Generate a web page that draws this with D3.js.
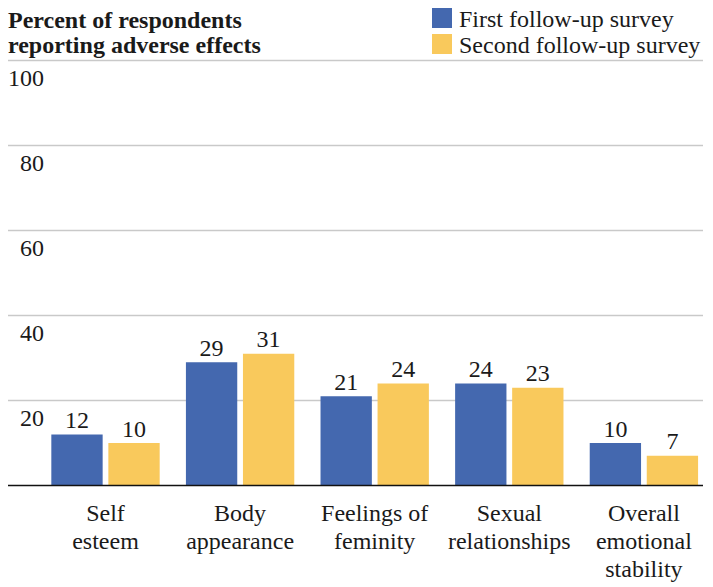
<!DOCTYPE html>
<html>
<head>
<meta charset="utf-8">
<script src="https://cdn.jsdelivr.net/npm/d3@7"></script>
</head>
<body style="margin:0">
<script>
const categories = [
  ["Self", "esteem"],
  ["Body", "appearance"],
  ["Feelings of", "feminity"],
  ["Sexual", "relationships"],
  ["Overall", "emotional", "stability"]
];
const seriesNames = ["First follow-up survey", "Second follow-up survey"];
const firstSurvey = [12, 29, 21, 24, 10];
const secondSurvey = [10, 31, 24, 23, 7];
const yTicks = [20, 40, 60, 80, 100];
const titleLines = ["Percent of respondents", "reporting adverse effects"];
const colors = ["#4468af", "#f9c95c"];

const FONT = "Liberation Serif";
const TXT = "#1a1a1a";

const W = 713, H = 587;
const svg = d3.select("body").append("svg").attr("width", W).attr("height", H)
  .style("display", "block");

function styleText(sel) {
  return sel.attr("font-family", FONT)
    .style("font-family", "'Liberation Serif', serif", "important")
    .attr("fill", TXT);
}

const plotLeft = 8, plotRight = 703;
const y = d3.scaleLinear().domain([0, 100]).range([485.5, 60.5]);
const x0 = d3.scaleBand().domain(d3.range(categories.length))
  .range([38.2, 711.2]).paddingInner(0.195).paddingOuter(0.0975);
const x1 = d3.scaleBand().domain([0, 1]).range([0, x0.bandwidth()]).paddingInner(0.1);

// gridlines
svg.append("g").selectAll("line").data(yTicks).join("line")
  .attr("x1", plotLeft).attr("x2", plotRight)
  .attr("y1", d => y(d)).attr("y2", d => y(d))
  .attr("stroke", "#c9c9c9").attr("stroke-width", 1.5);

// tick labels (below each gridline, right aligned)
styleText(svg.append("g").selectAll("text").data(yTicks).join("text")
  .attr("x", 44).attr("y", d => y(d) + 25)
  .attr("text-anchor", "end").attr("font-size", 24))
  .text(d => d);

// bars
const data = categories.map((c, i) => [firstSurvey[i], secondSurvey[i]]);
const groups = svg.append("g").selectAll("g").data(data).join("g")
  .attr("transform", (d, i) => `translate(${x0(i)},0)`);
groups.selectAll("rect").data(d => d).join("rect")
  .attr("x", (d, j) => x1(j)).attr("width", x1.bandwidth())
  .attr("y", d => y(d)).attr("height", d => y(0) - y(d))
  .attr("fill", (d, j) => colors[j]);
styleText(groups.selectAll("text").data(d => d).join("text")
  .attr("x", (d, j) => x1(j) + x1.bandwidth() / 2)
  .attr("y", d => y(d) - 6.5)
  .attr("text-anchor", "middle").attr("font-size", 24))
  .text(d => d);

// baseline axis
svg.append("line").attr("x1", plotLeft).attr("x2", plotRight)
  .attr("y1", y(0)).attr("y2", y(0)).attr("stroke", "#111").attr("stroke-width", 1.6);

// category labels (one text per line)
categories.forEach((lines, i) => {
  styleText(svg.append("g").selectAll("text").data(lines).join("text")
    .attr("text-anchor", "middle").attr("font-size", 24)
    .attr("x", x0(i) + x0.bandwidth() / 2)
    .attr("y", (d, k) => 521 + k * 28))
    .text(d => d);
});

// title
styleText(svg.append("g").selectAll("text").data(titleLines).join("text")
  .attr("font-size", 24).attr("font-weight", "bold")
  .attr("x", 8).attr("y", (d, k) => 28 + k * 25))
  .text(d => d);

// legend
const leg = svg.append("g").selectAll("g").data(seriesNames).join("g")
  .attr("transform", (d, i) => `translate(432,${8 + i * 26})`);
leg.append("rect").attr("width", 20).attr("height", 20).attr("fill", (d, i) => colors[i]);
styleText(leg.append("text").attr("x", 27).attr("y", 18.5).attr("font-size", 24))
  .text(d => d);
</script>
</body>
</html>
